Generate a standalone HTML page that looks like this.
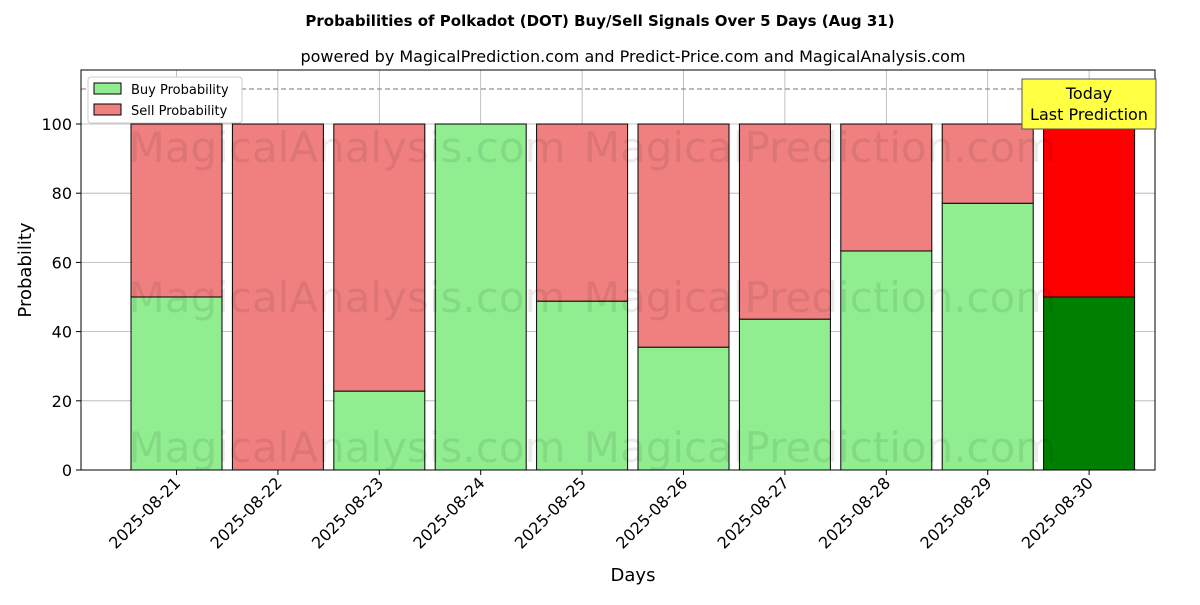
<!DOCTYPE html>
<html><head><meta charset="utf-8"><style>
body{margin:0;background:#fff;}
svg text{font-family:"DejaVu Sans","Liberation Sans",sans-serif;}
</style></head><body>
<svg id="chart" width="1200" height="600" xmlns="http://www.w3.org/2000/svg">
<text x="600" y="26" text-anchor="middle" font-size="15" font-weight="bold">Probabilities of Polkadot (DOT) Buy/Sell Signals Over 5 Days (Aug 31)</text>
<text x="633" y="62" text-anchor="middle" font-size="16">powered by MagicalPrediction.com and Predict-Price.com and MagicalAnalysis.com</text>
<g id="grid"></g>
<g id="bars"></g>
<g id="wm" font-size="42" fill="#000" opacity="0.08">
<text x="347" y="162" text-anchor="middle">MagicalAnalysis.com</text>
<text x="820" y="162" text-anchor="middle">MagicalPrediction.com</text>
<text x="347" y="312" text-anchor="middle">MagicalAnalysis.com</text>
<text x="820" y="312" text-anchor="middle">MagicalPrediction.com</text>
<text x="347" y="462" text-anchor="middle">MagicalAnalysis.com</text>
<text x="820" y="462" text-anchor="middle">MagicalPrediction.com</text>
</g>
<line x1="81" x2="1155" y1="89" y2="89" stroke="#777" stroke-dasharray="5,3"/>
<rect x="81" y="70" width="1074" height="400" fill="none" stroke="#000"/>
<g id="axes" font-size="16"></g>
<text x="633" y="581" text-anchor="middle" font-size="18">Days</text>
<text x="31" y="270" text-anchor="middle" font-size="18" transform="rotate(-90 31 270)">Probability</text>
<g>
<rect x="88" y="77" width="154" height="46" fill="#fff" stroke="#ccc" rx="3"/>
<rect x="94" y="83" width="27" height="11" fill="#90ee90" stroke="#000"/>
<text x="131" y="94" font-size="13">Buy Probability</text>
<rect x="94" y="104" width="27" height="11" fill="#f08080" stroke="#000"/>
<text x="131" y="115" font-size="13">Sell Probability</text>
</g>
<g>
<rect x="1022" y="79" width="134" height="50" fill="#ffff44" stroke="#555"/>
<text x="1089" y="99" text-anchor="middle" font-size="16">Today</text>
<text x="1089" y="120" text-anchor="middle" font-size="16">Last Prediction</text>
</g>
</svg>
<script>
const categories=["2025-08-21","2025-08-22","2025-08-23","2025-08-24","2025-08-25","2025-08-26","2025-08-27","2025-08-28","2025-08-29","2025-08-30"];
const buyValues=[50,0,22.8,100,48.8,35.5,43.6,63.3,77.1,50];
const sellValues=[50,100,77.2,0,51.2,64.5,56.4,36.7,22.9,50];
const yTicks=[0,20,40,60,80,100];
const NS="http://www.w3.org/2000/svg";
const y=v=>470-v*3.46;
const x=i=>176.5+i*101.4;
const bw=91;
function mk(t,a,p){const e=document.createElementNS(NS,t);for(const k in a)e.setAttribute(k,a[k]);p.appendChild(e);return e;}
const grid=document.getElementById('grid'),bars=document.getElementById('bars'),axes=document.getElementById('axes');
yTicks.forEach(t=>{
 const g=mk('line',{x1:81,x2:1155,y1:y(t),y2:y(t),stroke:'#b0b0b0','stroke-width':0.8},grid);
 
 
 mk('line',{x1:76,x2:81,y1:y(t),y2:y(t),stroke:'#000'},axes);
 const tx=mk('text',{x:72,y:y(t)+6,'text-anchor':'end'},axes);tx.textContent=t;
 
 
});
categories.forEach((c,i)=>{
 const g=mk('line',{x1:x(i),x2:x(i),y1:70,y2:470,stroke:'#b0b0b0','stroke-width':0.8},grid);
 
 
 const last=i===categories.length-1;
 const b=mk('rect',{x:x(i)-bw/2,y:y(buyValues[i]),width:bw,height:buyValues[i]*3.46,fill:last?'#008000':'#90ee90',stroke:'#000'},bars);
 
 
 const s=mk('rect',{x:x(i)-bw/2,y:y(buyValues[i]+sellValues[i]),width:bw,height:sellValues[i]*3.46,fill:last?'#ff0000':'#f08080',stroke:'#000'},bars);
 
 
 mk('line',{x1:x(i),x2:x(i),y1:470,y2:475,stroke:'#000'},axes);
 const tx=mk('text',{x:x(i)+5,y:484,'text-anchor':'end',transform:`rotate(-45 ${x(i)+5} 484)`},axes);tx.textContent=c;
 
 
});
</script>
</body></html>
